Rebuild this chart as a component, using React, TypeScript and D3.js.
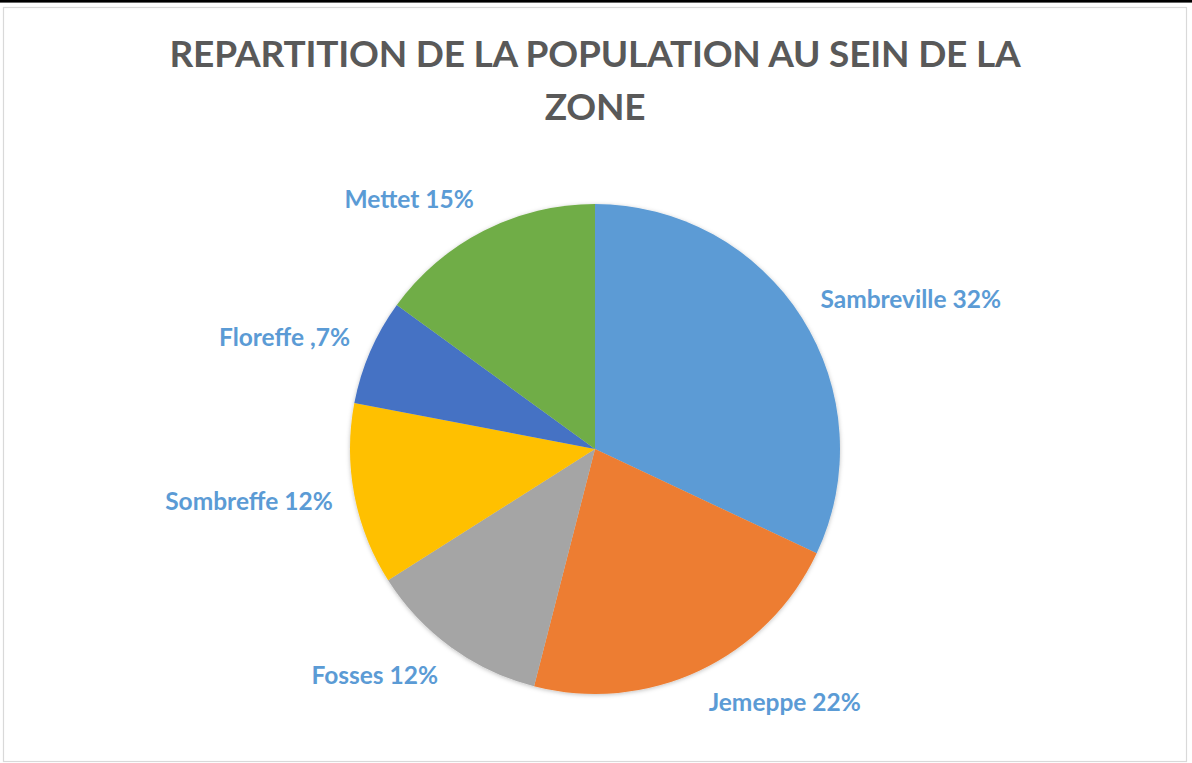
import { useEffect, useRef } from "react";
import * as d3 from "d3";

// data
const communes = ["Sambreville", "Jemeppe", "Fosses", "Sombreffe", "Floreffe", "Mettet"];
const parts = [32, 22, 12, 12, 7, 15];
const labelTexts = ["Sambreville 32%", "Jemeppe 22%", "Fosses 12%", "Sombreffe 12%", "Floreffe ,7%", "Mettet 15%"];
const sliceColors = ["#5B9BD5", "#ED7D31", "#A5A5A5", "#FFC000", "#4472C4", "#70AD47"];
const titleLines = ["REPARTITION DE LA POPULATION AU SEIN DE LA", "ZONE"];

export default function App() {
  const ref = useRef<SVGSVGElement | null>(null);

  useEffect(() => {
    if (!ref.current) return;
    ref.current.innerHTML = "";

    const width = 1192,
      height = 763;
    const cx = 595,
      cy = 449,
      radius = 245;
    const font = "Lato, 'Open Sans', sans-serif";

    const svg = d3.select(ref.current);

    // frame
    svg.append("rect").attr("width", width).attr("height", height).attr("fill", "#fff");
    svg
      .append("rect")
      .attr("x", 3.5)
      .attr("y", 7.5)
      .attr("width", 1183)
      .attr("height", 754)
      .attr("fill", "#fff")
      .attr("stroke", "#d9d9d9")
      .attr("stroke-width", 1.2);
    svg.append("rect").attr("width", width).attr("height", 2.6).attr("fill", "#000");

    // title
    svg
      .append("g")
      .selectAll("text")
      .data(titleLines)
      .join("text")
      .attr("x", cx)
      .attr("y", (d, i) => 67 + i * 53)
      .attr("text-anchor", "middle")
      .attr("font-family", font)
      .attr("font-weight", 700)
      .attr("font-size", 37)
      .attr("letter-spacing", -0.2)
      .attr("fill", "#595959")
      .text((d) => d);

    // shadow
    const defs = svg.append("defs");
    const f = defs
      .append("filter")
      .attr("id", "shadow")
      .attr("x", "-10%")
      .attr("y", "-10%")
      .attr("width", "120%")
      .attr("height", "120%");
    f.append("feDropShadow")
      .attr("dx", 0)
      .attr("dy", 1)
      .attr("stdDeviation", 2)
      .attr("flood-color", "#000")
      .attr("flood-opacity", 0.25);

    const data = communes.map((c, i) => ({ name: c, value: parts[i], label: labelTexts[i], color: sliceColors[i] }));
    const pie = d3
      .pie<(typeof data)[number]>()
      .value((d) => d.value)
      .sort(null);
    const arcs = pie(data);
    const arc = d3.arc<d3.PieArcDatum<(typeof data)[number]>>().innerRadius(0).outerRadius(radius);

    const g = svg.append("g").attr("transform", `translate(${cx},${cy})`);
    g.append("g")
      .attr("filter", "url(#shadow)")
      .selectAll("path")
      .data(arcs)
      .join("path")
      .attr("d", arc)
      .attr("fill", (d) => d.data.color);

    // labels outside the pie, placed along the slice's mid angle
    const gap = 22;
    g.append("g")
      .selectAll("text")
      .data(arcs)
      .join("text")
      .each(function (d) {
        const a = (d.startAngle + d.endAngle) / 2;
        const ux = Math.sin(a),
          uy = -Math.cos(a);
        const x = ux * (radius + gap);
        const y = uy * (radius + gap) + uy * 13;
        d3.select(this)
          .attr("x", x)
          .attr("y", y)
          .attr("dy", "0.35em")
          .attr("text-anchor", ux >= 0 ? "start" : "end");
      })
      .attr("font-family", font)
      .attr("font-weight", 700)
      .attr("font-size", 24.5)
      .attr("fill", "#5B9BD5")
      .text((d) => d.data.label);
  }, []);

  return (
    <svg
      ref={ref}
      width={1192}
      height={763}
      style={{ position: "absolute", left: 0, top: 0, display: "block" }}
    />
  );
}
